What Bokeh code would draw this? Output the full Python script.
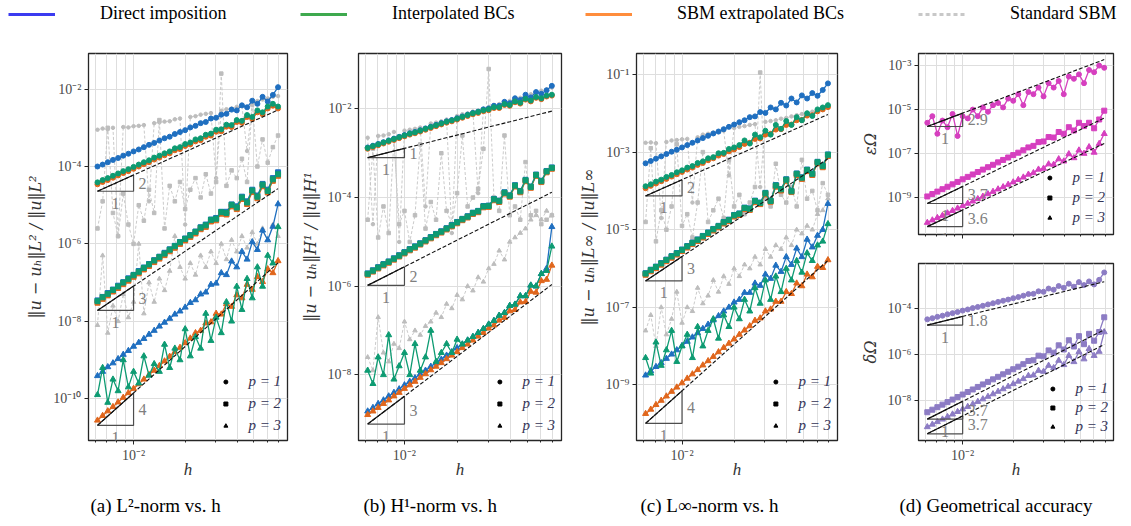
import math
from bokeh.plotting import figure
from bokeh.models import (FixedTicker, CustomJSTickFormatter, Legend, LegendItem,
                          Label, Title, Range1d)
from bokeh.layouts import row, column
from bokeh.embed import file_html
from bokeh.resources import INLINE

# ---------------- data (errors given as log10 values) ----------------
h = [0.00617, 0.00661, 0.00708, 0.00759, 0.00813, 0.00871, 0.00933, 0.01000, 0.01072, 0.01148,
     0.01230, 0.01318, 0.01413, 0.01514, 0.01622, 0.01738, 0.01862, 0.01995, 0.02138, 0.02291,
     0.02455, 0.02630, 0.02818, 0.03020, 0.03236, 0.03467, 0.03715, 0.03981, 0.04266, 0.04571,
     0.04898, 0.05248, 0.05623, 0.06026, 0.06457, 0.06918]

# (a) L2-norm
L2_direct_p1 = [-4.00, -3.95, -3.89, -3.83, -3.78, -3.72, -3.67, -3.61, -3.56, -3.50, -3.44, -3.39, -3.33, -3.27, -3.23, -3.16, -3.11, -3.06, -2.99, -2.95, -2.88, -2.85, -2.76, -2.74, -2.66, -2.64, -2.53, -2.55, -2.42, -2.47, -2.30, -2.38, -2.20, -2.32, -2.15, -1.95]
L2_interp_p1 = [-4.41, -4.35, -4.30, -4.24, -4.18, -4.12, -4.07, -4.01, -3.95, -3.89, -3.84, -3.77, -3.72, -3.66, -3.61, -3.53, -3.50, -3.42, -3.38, -3.30, -3.27, -3.18, -3.15, -3.05, -3.04, -2.92, -2.93, -2.80, -2.82, -2.67, -2.72, -2.55, -2.60, -2.45, -2.38, -2.45]
L2_sbm_p1 = [-4.46, -4.40, -4.35, -4.29, -4.23, -4.17, -4.12, -4.06, -4.00, -3.94, -3.89, -3.82, -3.77, -3.71, -3.66, -3.58, -3.55, -3.47, -3.43, -3.35, -3.32, -3.23, -3.20, -3.10, -3.09, -2.97, -2.98, -2.85, -2.87, -2.72, -2.77, -2.60, -2.65, -2.50, -2.43, -2.50]
L2_std_p1 = [-3.05, -3.02, -3.04, -3.00, -5.80, -2.98, -2.99, -2.96, -2.95, -2.93, -4.90, -2.88, -2.86, -2.84, -2.83, -2.78, -2.76, -5.50, -2.72, -2.70, -2.66, -2.64, -2.62, -4.30, -2.56, -2.52, -2.50, -2.46, -2.43, -3.60, -2.36, -2.31, -2.27, -2.24, -2.20, -2.18]
L2_direct_p2 = [-7.46, -7.37, -7.27, -7.18, -7.08, -6.99, -6.89, -6.80, -6.70, -6.61, -6.52, -6.42, -6.33, -6.23, -6.14, -6.05, -5.95, -5.86, -5.77, -5.68, -5.57, -5.50, -5.37, -5.33, -5.17, -5.17, -4.98, -5.03, -4.78, -4.90, -4.60, -4.75, -4.45, -4.60, -4.30, -4.15]
L2_interp_p2 = [-7.48, -7.38, -7.29, -7.19, -7.10, -7.00, -6.91, -6.81, -6.72, -6.62, -6.53, -6.43, -6.34, -6.25, -6.15, -6.06, -5.96, -5.87, -5.78, -5.69, -5.58, -5.52, -5.38, -5.35, -5.18, -5.20, -4.99, -5.06, -4.80, -4.93, -4.62, -4.78, -4.47, -4.63, -4.33, -4.20]
L2_sbm_p2 = [-7.52, -7.42, -7.33, -7.23, -7.14, -7.04, -6.95, -6.85, -6.76, -6.66, -6.57, -6.47, -6.38, -6.29, -6.19, -6.10, -6.00, -5.91, -5.82, -5.73, -5.62, -5.56, -5.42, -5.39, -5.22, -5.24, -5.03, -5.10, -4.84, -4.97, -4.66, -4.82, -4.51, -4.67, -4.37, -4.24]
L2_std_p2 = [-5.6, -4.9, -3.0, -5.2, -5.8, -4.7, -5.5, -6.0, -5.0, -5.4, -4.6, -5.2, -2.8, -5.6, -4.5, -4.9, -4.4, -5.1, -4.6, -4.3, -4.8, -4.2, -4.7, -4.4, -1.6, -4.5, -4.1, -4.3, -3.8, -4.4, -2.4, -4.0, -3.3, -3.9, -3.5, -3.2]
L2_direct_p3 = [-9.41, -9.30, -9.18, -9.08, -8.97, -8.86, -8.76, -8.65, -8.55, -8.45, -8.34, -8.24, -8.13, -8.03, -7.93, -7.82, -7.74, -7.64, -7.52, -7.45, -7.30, -7.25, -7.05, -7.02, -6.75, -6.80, -6.45, -6.60, -6.20, -6.40, -5.95, -6.15, -5.65, -5.90, -5.55, -4.97]
L2_interp_p3 = [-9.9, -9.2, -10.1, -9.5, -9.8, -9.0, -9.7, -9.3, -9.6, -8.9, -9.4, -9.1, -9.3, -8.6, -9.2, -8.7, -9.0, -8.2, -8.9, -8.4, -8.7, -7.8, -8.5, -7.9, -8.3, -7.5, -8.0, -7.1, -7.7, -6.9, -7.4, -6.6, -7.1, -6.3, -6.5, -5.56]
L2_sbm_p3 = [-10.56, -10.44, -10.32, -10.21, -10.09, -9.97, -9.85, -9.74, -9.62, -9.50, -9.38, -9.27, -9.15, -9.03, -8.91, -8.79, -8.68, -8.56, -8.44, -8.30, -8.24, -8.05, -8.02, -7.80, -7.82, -7.55, -7.62, -7.32, -7.40, -7.05, -7.18, -6.85, -6.98, -6.65, -6.75, -6.44]
L2_std_p3 = [-8.1, -6.3, -8.3, -7.6, -8.0, -7.3, -7.9, -7.5, -6.0, -7.8, -7.0, -7.5, -6.9, -7.2, -6.7, -5.8, -6.6, -6.9, -6.5, -6.8, -6.3, -6.6, -6.2, -6.5, -6.0, -6.4, -5.9, -6.2, -5.8, -6.1, -5.7, -6.0, -5.6, -5.9, -5.5, -5.8]
L2_ref_slopes = [2, 3, 4]
L2_ref_start = [-4.64, -7.72, -10.69]

# (b) H1-norm
H1_direct_p1 = [-2.87, -2.83, -2.79, -2.75, -2.71, -2.67, -2.63, -2.59, -2.55, -2.52, -2.48, -2.44, -2.40, -2.36, -2.32, -2.28, -2.25, -2.21, -2.17, -2.13, -2.09, -2.06, -2.01, -1.99, -1.93, -1.93, -1.84, -1.87, -1.76, -1.80, -1.68, -1.74, -1.62, -1.66, -1.58, -1.48]
H1_interp_p1 = [-2.88, -2.84, -2.80, -2.76, -2.72, -2.68, -2.64, -2.60, -2.56, -2.53, -2.49, -2.45, -2.41, -2.37, -2.33, -2.29, -2.26, -2.22, -2.18, -2.14, -2.10, -2.07, -2.03, -2.01, -1.96, -1.96, -1.89, -1.91, -1.83, -1.86, -1.77, -1.81, -1.73, -1.76, -1.70, -1.68]
H1_sbm_p1 = [-2.90, -2.86, -2.82, -2.78, -2.74, -2.70, -2.66, -2.62, -2.58, -2.55, -2.51, -2.47, -2.43, -2.39, -2.35, -2.31, -2.28, -2.24, -2.20, -2.16, -2.12, -2.09, -2.05, -2.03, -1.98, -1.98, -1.91, -1.93, -1.85, -1.88, -1.79, -1.83, -1.75, -1.78, -1.72, -1.70]
H1_std_p1 = [-2.65, -4.60, -2.61, -2.60, -2.57, -2.52, -5.00, -2.49, -2.47, -2.45, -2.42, -4.20, -2.33, -2.31, -2.28, -2.24, -4.80, -2.16, -2.12, -2.10, -2.06, -3.90, -2.00, -1.96, -1.91, -1.89, -1.86, -1.82, -1.78, -1.75, -1.71, -1.67, -1.63, -1.59, -1.56, -1.52]
H1_direct_p2 = [-5.71, -5.64, -5.57, -5.50, -5.44, -5.37, -5.30, -5.23, -5.16, -5.10, -5.03, -4.96, -4.89, -4.82, -4.76, -4.69, -4.62, -4.55, -4.48, -4.42, -4.34, -4.30, -4.19, -4.18, -4.03, -4.07, -3.88, -3.95, -3.72, -3.85, -3.60, -3.75, -3.48, -3.62, -3.40, -3.32]
H1_interp_p2 = [-5.72, -5.65, -5.58, -5.51, -5.45, -5.38, -5.31, -5.24, -5.17, -5.11, -5.04, -4.97, -4.90, -4.83, -4.77, -4.70, -4.63, -4.56, -4.49, -4.43, -4.35, -4.31, -4.20, -4.19, -4.04, -4.08, -3.89, -3.96, -3.73, -3.86, -3.61, -3.76, -3.49, -3.63, -3.41, -3.33]
H1_sbm_p2 = [-5.74, -5.67, -5.60, -5.53, -5.47, -5.40, -5.33, -5.26, -5.19, -5.13, -5.06, -4.99, -4.92, -4.85, -4.79, -4.72, -4.65, -4.58, -4.51, -4.45, -4.37, -4.33, -4.22, -4.21, -4.06, -4.10, -3.91, -3.98, -3.75, -3.88, -3.63, -3.78, -3.51, -3.65, -3.43, -3.35]
H1_std_p2 = [-4.5, -2.9, -4.9, -4.2, -4.8, -2.7, -4.6, -4.3, -5.0, -4.4, -2.8, -4.7, -4.1, -4.5, -3.0, -4.3, -4.6, -3.9, -2.6, -4.2, -4.0, -3.8, -2.9, -1.1, -4.0, -4.3, -2.6, -4.4, -4.2, -4.5, -3.2, -4.4, -4.3, -4.6, -4.5, -4.4]
H1_direct_p3 = [-8.82, -8.74, -8.65, -8.57, -8.48, -8.40, -8.32, -8.23, -8.15, -8.07, -7.98, -7.90, -7.81, -7.73, -7.65, -7.56, -7.48, -7.39, -7.31, -7.22, -7.14, -7.05, -6.96, -6.86, -6.78, -6.66, -6.60, -6.44, -6.41, -6.22, -6.22, -5.98, -6.00, -5.72, -5.60, -4.66]
H1_interp_p3 = [-7.9, -8.2, -7.6, -8.0, -7.1, -8.1, -7.8, -7.5, -8.0, -7.3, -7.9, -7.6, -7.0, -7.7, -7.5, -7.3, -7.5, -7.2, -7.31, -7.22, -7.14, -7.05, -6.96, -6.86, -6.78, -6.66, -6.60, -6.44, -6.41, -6.22, -6.22, -5.98, -6.00, -5.72, -5.65, -5.10]
H1_sbm_p3 = [-8.90, -8.82, -8.74, -8.65, -8.57, -8.48, -8.40, -8.31, -8.23, -8.15, -8.06, -7.98, -7.89, -7.81, -7.73, -7.64, -7.56, -7.48, -7.39, -7.31, -7.22, -7.13, -7.05, -6.95, -6.88, -6.77, -6.71, -6.56, -6.53, -6.36, -6.35, -6.12, -6.14, -5.88, -5.85, -5.53]
H1_std_p3 = [-7.6, -7.9, -6.7, -7.5, -7.7, -7.3, -7.4, -6.8, -7.2, -7.0, -7.1, -6.9, -6.8, -6.6, -6.7, -6.4, -6.5, -6.2, -6.3, -6.0, -6.1, -5.8, -5.9, -5.6, -5.5, -5.2, -5.4, -5.0, -4.9, -4.8, -4.7, -4.5, -4.4, -4.5, -4.3, -4.4]
H1_ref_slopes = [1, 2, 3]
H1_ref_start = [-3.10, -5.98, -9.11]

# (c) L-infinity norm
Li_direct_p1 = [-3.29, -3.23, -3.17, -3.11, -3.05, -2.99, -2.94, -2.88, -2.82, -2.76, -2.70, -2.64, -2.58, -2.52, -2.47, -2.41, -2.35, -2.29, -2.23, -2.18, -2.10, -2.08, -1.97, -1.99, -1.85, -1.90, -1.73, -1.80, -1.62, -1.72, -1.54, -1.62, -1.48, -1.55, -1.40, -1.23]
Li_interp_p1 = [-3.88, -3.83, -3.76, -3.71, -3.64, -3.59, -3.52, -3.47, -3.40, -3.36, -3.28, -3.24, -3.16, -3.13, -3.03, -3.02, -2.92, -2.88, -2.82, -2.70, -2.78, -2.55, -2.62, -2.45, -2.55, -2.30, -2.40, -2.20, -2.30, -2.10, -2.18, -2.00, -2.07, -1.90, -1.85, -1.79]
Li_sbm_p1 = [-3.93, -3.87, -3.81, -3.75, -3.69, -3.63, -3.57, -3.51, -3.45, -3.40, -3.33, -3.28, -3.21, -3.16, -3.09, -3.05, -2.98, -2.93, -2.87, -2.79, -2.76, -2.66, -2.65, -2.55, -2.53, -2.42, -2.41, -2.30, -2.29, -2.18, -2.17, -2.06, -2.05, -1.95, -1.90, -1.84]
Li_std_p1 = [-2.76, -2.75, -2.77, -4.70, -2.74, -2.70, -2.69, -2.67, -2.66, -4.30, -2.62, -2.55, -2.53, -2.50, -2.49, -2.45, -3.60, -2.38, -2.35, -2.33, -2.30, -2.28, -3.90, -2.22, -2.20, -2.18, -2.14, -2.12, -2.08, -2.05, -2.02, -1.99, -1.96, -1.93, -1.90, -1.86]
Li_direct_p2 = [-6.12, -6.03, -5.95, -5.86, -5.77, -5.68, -5.60, -5.51, -5.42, -5.33, -5.25, -5.16, -5.07, -4.98, -4.90, -4.80, -4.74, -4.62, -4.58, -4.43, -4.45, -4.25, -4.30, -4.05, -4.25, -3.85, -3.95, -3.70, -4.00, -3.55, -3.65, -3.45, -3.55, -3.25, -3.35, -3.06]
Li_interp_p2 = [-6.13, -6.04, -5.96, -5.87, -5.78, -5.69, -5.61, -5.52, -5.43, -5.34, -5.26, -5.17, -5.08, -4.99, -4.91, -4.81, -4.75, -4.63, -4.59, -4.44, -4.46, -4.26, -4.31, -4.06, -4.26, -3.86, -3.96, -3.71, -4.01, -3.56, -3.66, -3.46, -3.56, -3.26, -3.36, -3.07]
Li_sbm_p2 = [-6.16, -6.07, -5.99, -5.90, -5.81, -5.72, -5.64, -5.55, -5.46, -5.37, -5.29, -5.20, -5.11, -5.02, -4.94, -4.84, -4.78, -4.66, -4.62, -4.47, -4.49, -4.29, -4.34, -4.09, -4.28, -3.89, -3.99, -3.74, -4.03, -3.59, -3.69, -3.49, -3.59, -3.29, -3.39, -3.10]
Li_std_p2 = [-4.8, -2.9, -5.3, -4.5, -5.0, -4.4, -2.8, -4.9, -4.6, -5.2, -4.3, -3.0, -4.8, -4.5, -4.2, -4.7, -3.2, -4.4, -4.1, -4.6, -4.3, -3.9, -0.95, -4.2, -4.4, -3.3, -4.1, -4.3, -3.9, -4.4, -3.2, -4.2, -4.0, -4.5, -3.8, -4.1]
Li_direct_p3 = [-8.75, -8.64, -8.53, -8.43, -8.32, -8.21, -8.10, -7.99, -7.88, -7.77, -7.66, -7.55, -7.44, -7.33, -7.22, -7.10, -7.00, -6.87, -6.80, -6.62, -6.62, -6.38, -6.44, -6.15, -6.26, -5.92, -6.08, -5.70, -5.90, -5.48, -5.70, -5.25, -5.45, -5.15, -5.00, -4.33]
Li_interp_p3 = [-8.3, -8.7, -7.9, -8.5, -8.1, -7.6, -8.4, -8.0, -7.7, -8.3, -7.5, -8.0, -7.6, -7.3, -7.8, -7.2, -7.5, -7.0, -7.3, -6.8, -7.1, -6.5, -6.9, -6.3, -6.8, -6.2, -6.6, -6.0, -6.3, -5.8, -6.1, -5.6, -5.8, -5.4, -5.3, -4.85]
Li_sbm_p3 = [-9.74, -9.63, -9.51, -9.40, -9.29, -9.17, -9.06, -8.95, -8.83, -8.72, -8.61, -8.49, -8.38, -8.27, -8.15, -8.04, -7.93, -7.82, -7.70, -7.59, -7.48, -7.34, -7.28, -7.10, -7.05, -6.85, -6.85, -6.60, -6.65, -6.38, -6.45, -6.15, -6.22, -5.95, -5.98, -5.78]
Li_std_p3 = [-7.6, -7.2, -8.0, -7.0, -7.7, -7.3, -6.6, -7.4, -7.0, -7.1, -6.5, -6.9, -6.7, -6.3, -6.6, -6.2, -6.4, -6.0, -6.2, -5.9, -6.0, -5.7, -5.9, -5.5, -5.7, -5.4, -5.5, -5.2, -5.4, -5.0, -5.1, -4.9, -5.0, -4.6, -4.5, -4.2]
Li_ref_slopes = [2, 3, 4]
Li_ref_start = [-4.13, -6.32, -9.99]

# (d) geometrical accuracy
eps_p1 = [-5.6, -5.3, -6.1, -5.5, -5.8, -5.2, -6.2, -5.3, -5.4, -5.0, -5.3, -4.9, -5.1, -4.8, -4.7, -4.9, -4.5, -4.6, -4.3, -4.8, -4.2, -4.3, -4.0, -4.4, -3.8, -4.0, -3.7, -4.3, -3.5, -3.6, -3.4, -3.8, -3.2, -3.3, -3.0, -3.1]
eps_p2 = [-8.95, -8.84, -8.73, -8.62, -8.51, -8.40, -8.29, -8.17, -8.06, -7.95, -7.84, -7.73, -7.62, -7.51, -7.40, -7.29, -7.18, -7.07, -6.96, -6.85, -6.72, -6.65, -6.48, -6.45, -6.25, -6.27, -6.02, -6.10, -5.80, -5.95, -5.60, -5.75, -5.60, -5.85, -5.45, -5.05]
eps_p3 = [-10.14, -10.03, -9.92, -9.82, -9.71, -9.60, -9.49, -9.38, -9.27, -9.17, -9.06, -8.95, -8.84, -8.73, -8.62, -8.52, -8.41, -8.30, -8.19, -8.08, -7.95, -7.88, -7.72, -7.68, -7.48, -7.50, -7.25, -7.35, -7.02, -7.20, -6.85, -7.00, -6.70, -6.95, -6.55, -6.10]
eps_ref_slopes = [2.9, 3.7, 3.6]
eps_ref_start = [-5.77, -9.27, -10.32]
delta_p1 = [-4.47, -4.42, -4.36, -4.31, -4.25, -4.20, -4.15, -4.09, -4.04, -3.98, -3.93, -3.88, -3.82, -3.77, -3.71, -3.66, -3.61, -3.55, -3.50, -3.44, -3.37, -3.36, -3.25, -3.27, -3.13, -3.18, -3.02, -3.10, -2.92, -3.05, -2.85, -2.98, -2.82, -2.95, -2.75, -2.43]
delta_p2 = [-8.51, -8.40, -8.29, -8.18, -8.07, -7.96, -7.85, -7.74, -7.63, -7.52, -7.41, -7.30, -7.19, -7.08, -6.97, -6.86, -6.75, -6.64, -6.53, -6.42, -6.28, -6.25, -6.05, -6.08, -5.82, -5.92, -5.60, -5.78, -5.38, -5.65, -5.20, -5.55, -5.10, -5.40, -5.02, -4.38]
delta_p3 = [-9.15, -9.04, -8.93, -8.82, -8.71, -8.60, -8.49, -8.38, -8.27, -8.16, -8.05, -7.94, -7.83, -7.72, -7.61, -7.50, -7.39, -7.28, -7.17, -7.06, -6.92, -6.90, -6.70, -6.74, -6.48, -6.58, -6.26, -6.45, -6.05, -6.32, -5.88, -6.20, -5.75, -6.05, -5.87, -5.02]
delta_ref_slopes = [1.8, 3.7, 3.7]
delta_ref_start = [-4.72, -8.81, -9.45]

LEGEND_LABELS = ["Direct imposition", "Interpolated BCs", "SBM extrapolated BCs", "Standard SBM"]
P_LABELS = ["p = 1", "p = 2", "p = 3"]
CAPTIONS = ["(a) L²-norm vs. h", "(b) H¹-norm vs. h", "(c) L∞-norm vs. h", "(d) Geometrical accuracy"]
YLABELS = ["‖u − uₕ‖L² / ‖u‖L²", "‖u − uₕ‖H¹ / ‖u‖H¹", "‖u − uₕ‖L∞ / ‖u‖L∞", "εΩ", "δΩ"]

# ---------------- styling ----------------
C_BLUE, C_GREEN, C_ORANGE, C_GREY = "#1f6fc0", "#0d9b72", "#e0661c", "#c4c4c4"
C_MAG, C_PUR = "#d63fbf", "#8c7cc4"
SERIF = "Liberation Serif"
XLIM = (-2.262, -1.105)
X_MINOR = [0.005, 0.006, 0.007, 0.008, 0.009, 0.02, 0.03, 0.04, 0.05, 0.06, 0.07, 0.08, 0.09]
MARKERS = ["circle", "square", "triangle"]
MSIZE = [5.0, 5.0, 6.0]
HIDDEN = 1e-30  # placeholder position (outside every range) for legend-only glyphs

TICK_JS = """
const e = Math.round(Math.log10(tick));
const m = {'-':'\u207b','0':'\u2070','1':'\u00b9','2':'\u00b2','3':'\u00b3','4':'\u2074','5':'\u2075','6':'\u2076','7':'\u2077','8':'\u2078','9':'\u2079'};
let s = '';
for (const c of String(e)) { s += m[c]; }
return '10' + s;
"""


def make_fig(w, hgt, bl, br, bt, bb, ylim, yticks, ylabel, show_x=True, caption=None, cap_off=0):
    p = figure(width=w, height=hgt, x_axis_type="log", y_axis_type="log",
               x_range=Range1d(10 ** XLIM[0], 10 ** XLIM[1]),
               y_range=Range1d(10 ** ylim[0], 10 ** ylim[1]),
               toolbar_location=None, output_backend="svg",
               min_border_left=bl, min_border_right=br, min_border_top=bt, min_border_bottom=bb)
    xt = FixedTicker(ticks=[0.01], minor_ticks=X_MINOR)
    yt = FixedTicker(ticks=yticks)
    p.xaxis.ticker = xt
    p.xgrid.ticker = xt
    p.yaxis.ticker = yt
    p.ygrid.ticker = yt
    p.yaxis.formatter = CustomJSTickFormatter(code=TICK_JS)
    p.xgrid.grid_line_color = "#dedede"
    p.xgrid.minor_grid_line_color = "#dedede"
    p.ygrid.grid_line_color = "#dedede"
    p.outline_line_color = "#262626"
    p.outline_line_width = 1.3
    p.axis.axis_line_color = "#262626"
    p.axis.major_tick_line_color = "#262626"
    p.axis.minor_tick_line_color = "#262626"
    p.axis.major_tick_out = 4
    p.axis.major_tick_in = 0
    p.axis.minor_tick_out = 2
    p.axis.minor_tick_in = 0
    p.yaxis.minor_tick_line_color = None
    p.axis.major_label_text_font = SERIF
    p.axis.major_label_text_font_size = "14px"
    p.axis.major_label_text_color = "#4a4a4a"
    p.axis.major_label_standoff = 3
    p.yaxis.axis_label = ylabel
    p.yaxis.axis_label_text_font = "DejaVu Serif"
    p.yaxis.axis_label_text_font_style = "italic"
    p.yaxis.axis_label_text_font_size = "16px"
    p.yaxis.axis_label_text_color = "#333333"
    p.yaxis.axis_label_standoff = 5
    if show_x:
        p.xaxis.formatter = CustomJSTickFormatter(code=TICK_JS)
        p.xaxis.axis_label = "h"
        p.xaxis.axis_label_text_font = SERIF
        p.xaxis.axis_label_text_font_style = "italic"
        p.xaxis.axis_label_text_font_size = "17px"
        p.xaxis.axis_label_text_color = "#333333"
        p.xaxis.axis_label_standoff = -6
    else:
        p.xaxis.formatter = CustomJSTickFormatter(code="return '';")
        p.xaxis.major_label_standoff = 0
    if caption:
        p.add_layout(Title(text=caption, align="left", offset=cap_off, text_font=SERIF,
                           text_font_size="19px", text_font_style="normal", text_color="black",
                           standoff=22), "below")
    return p


def draw(p, vals, color, k, dashed=False):
    n = min(len(h), len(vals))
    xs = h[:n]
    ys = [10.0 ** v for v in vals[:n]]
    if dashed:
        p.line(xs, ys, line_color=color, line_width=0.9, line_dash="3 2")
        p.scatter(xs, ys, marker=MARKERS[k], size=MSIZE[k] - 1.5, fill_color="#bdbdbd", line_color="#bdbdbd")
    else:
        p.line(xs, ys, line_color=color, line_width=1.3)
        p.scatter(xs, ys, marker=MARKERS[k], size=MSIZE[k], fill_color=color, line_color=color)


def refs(p, slopes, starts, texts):
    h0, h1 = h[0], h[-1]
    for k, (s, a0, t) in enumerate(zip(slopes, starts, texts)):
        e0 = 10.0 ** a0
        p.line([h0, h1], [e0, e0 * (h1 / h0) ** s], line_color="#111111", line_width=1.1, line_dash="4 2")
        etop = e0 * (0.01 / h0) ** s
        p.line([h0, 0.01, 0.01], [e0, e0, etop], line_color="#4d4d4d", line_width=1.2)
        p.line([h0, 0.01], [e0, etop], line_color="#111111", line_width=1.2)
        p.add_layout(Label(x=0.01, y=math.sqrt(e0 * etop), text=t, x_offset=5, text_align="left",
                           text_baseline="middle", text_font=SERIF, text_font_size="16px",
                           text_color="#7f7f7f"))
        p.add_layout(Label(x=math.sqrt(h0 * 0.01), y=e0, text="1", y_offset=-12, text_align="center",
                           text_baseline="middle", text_font=SERIF, text_font_size="16px",
                           text_color="#7f7f7f"))


def p_legend(p, spacing, margin):
    rs = [p.scatter([HIDDEN], [HIDDEN], marker=MARKERS[k], size=MSIZE[k], fill_color="black",
                    line_color="black") for k in range(3)]
    lg = Legend(items=[LegendItem(label=P_LABELS[k], renderers=[rs[k]]) for k in range(3)],
                location="bottom_right", border_line_color=None, background_fill_alpha=0,
                label_text_font=SERIF, label_text_font_style="italic", label_text_font_size="15px",
                label_text_color="#333355", glyph_width=10, glyph_height=15, label_height=15,
                spacing=spacing, label_standoff=18, margin=margin, padding=4)
    p.add_layout(lg)


def error_panel(w, bl, br, ylim, yticks, ylabel, caption, cap_off, std, direct, sbm, interp, slopes, starts):
    p = make_fig(w, 488, bl, br, 15, 82, ylim, yticks, ylabel, True, caption, cap_off)
    for k in range(3):
        draw(p, std[k], C_GREY, k, dashed=True)
    for k in range(3):
        draw(p, direct[k], C_BLUE, k)
        draw(p, sbm[k], C_ORANGE, k)
        draw(p, interp[k], C_GREEN, k)
    refs(p, slopes, starts, [str(s) for s in slopes])
    p_legend(p, 5, 6)
    return p


pa = error_panel(292, 88, 5, (-11.08, -1.08), [1e-10, 1e-8, 1e-6, 1e-4, 1e-2], YLABELS[0], CAPTIONS[0], 2,
                 [L2_std_p1, L2_std_p2, L2_std_p3], [L2_direct_p1, L2_direct_p2, L2_direct_p3],
                 [L2_sbm_p1, L2_sbm_p2, L2_sbm_p3], [L2_interp_p1, L2_interp_p2, L2_interp_p3],
                 L2_ref_slopes, L2_ref_start)
pb = error_panel(283, 66, 14, (-9.48, -0.75), [1e-8, 1e-6, 1e-4, 1e-2], YLABELS[1], CAPTIONS[1], 5,
                 [H1_std_p1, H1_std_p2, H1_std_p3], [H1_direct_p1, H1_direct_p2, H1_direct_p3],
                 [H1_sbm_p1, H1_sbm_p2, H1_sbm_p3], [H1_interp_p1, H1_interp_p2, H1_interp_p3],
                 H1_ref_slopes, H1_ref_start)
pc = error_panel(282, 58, 20, (-10.43, -0.46), [1e-9, 1e-7, 1e-5, 1e-3, 1e-1], YLABELS[2], CAPTIONS[2], 4,
                 [Li_std_p1, Li_std_p2, Li_std_p3], [Li_direct_p1, Li_direct_p2, Li_direct_p3],
                 [Li_sbm_p1, Li_sbm_p2, Li_sbm_p3], [Li_interp_p1, Li_interp_p2, Li_interp_p3],
                 Li_ref_slopes, Li_ref_start)

pd1 = make_fig(266, 210, 50, 10, 15, 14, (-10.68, -2.45), [1e-9, 1e-7, 1e-5, 1e-3], YLABELS[3], False, None)
for k, v in enumerate([eps_p1, eps_p2, eps_p3]):
    draw(pd1, v, C_MAG, k)
refs(pd1, eps_ref_slopes, eps_ref_start, [str(s) for s in eps_ref_slopes])
p_legend(pd1, 3, 8)

pd2 = make_fig(266, 278, 50, 10, 15, 82, (-9.74, -2.04), [1e-8, 1e-6, 1e-4], YLABELS[4], True, CAPTIONS[3], -19)
for k, v in enumerate([delta_p1, delta_p2, delta_p3]):
    draw(pd2, v, C_PUR, k)
refs(pd2, delta_ref_slopes, delta_ref_start, [str(s) for s in delta_ref_slopes])
p_legend(pd2, 2, 5)

# ---------------- top legend ----------------
top = figure(width=1123, height=38, x_range=Range1d(0, 1), y_range=Range1d(0, 1),
             toolbar_location=None, output_backend="svg", min_border=0)
top.axis.visible = False
top.grid.visible = False
top.outline_line_color = None
LEG_COLORS = ["#3b3bf0", "#3ea94e", "#ff8d3c", "#c8c8c8"]
LEG_DASH = ["solid", "solid", "solid", "4 3"]
LEG_X = [8, 300, 585, 918]
for lab, col, dsh, x in zip(LEGEND_LABELS, LEG_COLORS, LEG_DASH, LEG_X):
    r = top.line([5, 6], [5, 5], line_color=col, line_width=3, line_dash=dsh)  # legend-only glyph, off-range
    top.add_layout(Legend(items=[LegendItem(label=lab, renderers=[r])], location=(x, 14),
                          glyph_width=47, glyph_height=20, label_height=20, label_standoff=45,
                          padding=0, margin=0, border_line_color=None, background_fill_alpha=0,
                          label_text_font=SERIF, label_text_font_size="18px", label_text_color="black"))

layout = column(top, row(pa, pb, pc, column(pd1, pd2, spacing=0), spacing=0), spacing=0)
open("out.html", "w").write(file_html(layout, INLINE))
